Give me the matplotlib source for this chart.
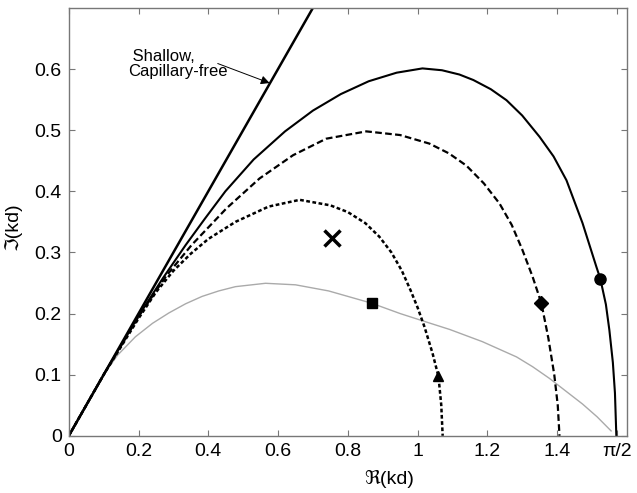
import numpy as np
import matplotlib.pyplot as plt

# values
shallow_x = [0.0, 0.70]
shallow_y = [0.0, 0.70]

solid_x = [0.0, 0.10, 0.20, 0.27, 0.335, 0.39, 0.449, 0.53, 0.62, 0.70, 0.78, 0.86, 0.94,
           1.014, 1.07, 1.12, 1.16, 1.21, 1.255, 1.30, 1.35, 1.39, 1.427, 1.473, 1.513,
           1.524, 1.54, 1.55, 1.56, 1.566, 1.570]
solid_y = [0.0, 0.10, 0.196, 0.258, 0.312, 0.355, 0.400, 0.452, 0.498, 0.532, 0.559, 0.580,
           0.594, 0.601, 0.598, 0.591, 0.582, 0.567, 0.549, 0.524, 0.489, 0.457, 0.418,
           0.348, 0.276, 0.257, 0.215, 0.173, 0.12, 0.07, 0.0]

dash_x = [0.0, 0.10, 0.20, 0.28, 0.352, 0.452, 0.547, 0.643, 0.738, 0.853, 0.95, 1.034,
          1.09, 1.14, 1.19, 1.235, 1.27, 1.30, 1.33, 1.355, 1.375, 1.392, 1.402, 1.407]
dash_y = [0.0, 0.10, 0.195, 0.262, 0.312, 0.372, 0.421, 0.459, 0.486, 0.498, 0.492, 0.478,
          0.462, 0.442, 0.413, 0.380, 0.345, 0.305, 0.260, 0.217, 0.160, 0.100, 0.050, 0.0]

short_x = [0.0, 0.10, 0.20, 0.25, 0.30, 0.35, 0.40, 0.478, 0.573, 0.662, 0.75, 0.80, 0.85,
           0.89, 0.925, 0.955, 0.98, 1.0, 1.02, 1.043, 1.06, 1.068, 1.072]
short_y = [0.0, 0.10, 0.192, 0.235, 0.270, 0.298, 0.322, 0.350, 0.375, 0.386, 0.377, 0.366,
           0.348, 0.326, 0.300, 0.270, 0.238, 0.210, 0.178, 0.135, 0.097, 0.050, 0.0]

gray_x = [0.0, 0.07, 0.095, 0.14, 0.191, 0.24, 0.287, 0.335, 0.382, 0.43, 0.478, 0.564, 0.65,
          0.745, 0.868, 0.95, 1.026, 1.092, 1.186, 1.284, 1.33, 1.378, 1.43, 1.473, 1.515, 1.555]
gray_y = [0.0, 0.07, 0.096, 0.132, 0.162, 0.184, 0.201, 0.216, 0.228, 0.237, 0.244, 0.2495,
          0.247, 0.237, 0.217, 0.200, 0.186, 0.174, 0.154, 0.129, 0.113, 0.094, 0.071, 0.052,
          0.031, 0.008]

# marked points: (x, y, marker)
marks = [(1.524, 0.257, 'o'), (1.355, 0.217, 'D'), (1.060, 0.098, '^'), (0.868, 0.217, 's')]
cross_x, cross_y = 0.754, 0.323

xticks = [0, 0.2, 0.4, 0.6, 0.8, 1.0, 1.2, 1.4, np.pi / 2]
xticklabels = ['0', '0.2', '0.4', '0.6', '0.8', '1', '1.2', '1.4', 'π/2']
yticks = [0, 0.1, 0.2, 0.3, 0.4, 0.5, 0.6]
yticklabels = ['0', '0.1', '0.2', '0.3', '0.4', '0.5', '0.6']

plt.rcParams['font.family'] = ['Liberation Sans', 'DejaVu Sans']

fig = plt.figure(figsize=(6.37, 4.93), dpi=100)
ax = fig.add_axes([0.108, 0.116, 0.876, 0.868])

ax.plot(shallow_x, shallow_y, color='k', lw=1.8)
ax.plot(gray_x, gray_y, color='#aaaaaa', lw=1.0)
ax.plot(solid_x, solid_y, color='k', lw=1.5)
ax.plot(dash_x, dash_y, color='k', lw=1.6, linestyle=(0, (3, 1.5)))
ax.plot(short_x, short_y, color='k', lw=1.8, linestyle=(0, (1.5, 1)))

for mx, my, m in marks:
    size = 8 if m == 'o' else 7
    ax.plot(mx, my, marker=m, color='k', markersize=size, linestyle='none')
ax.plot(cross_x, cross_y, marker='x', color='k', markersize=11, mew=2.5, linestyle='none')

ax.text(0.169, 0.609, ' Shallow,\nCapillary-free', fontsize=12, ha='left', va='center',
        linespacing=1.0)
ax.annotate('', xy=(0.576, 0.577), xytext=(0.427, 0.609),
            arrowprops=dict(arrowstyle='-|>', color='k', lw=0.7, mutation_scale=13,
                            shrinkA=0, shrinkB=0))

ax.set_xlim(0, 1.6)
ax.set_ylim(0, 0.7)
ax.set_xticks(xticks)
ax.set_xticklabels(xticklabels)
ax.set_yticks(yticks)
ax.set_yticklabels(yticklabels)
ax.tick_params(direction='in', top=True, right=True, length=4, labelsize=14,
               color='#777777', pad=5)
for s in ax.spines.values():
    s.set_color('#777777')
    s.set_linewidth(1.0)

ax.set_xlabel('ℜ(kd)', fontsize=14)
ax.set_ylabel('ℑ(kd)', fontsize=14)
ax.xaxis.set_label_coords(0.575, -0.08)
ax.yaxis.set_label_coords(-0.084, 0.49)

fig.savefig('out.png', dpi=100)
